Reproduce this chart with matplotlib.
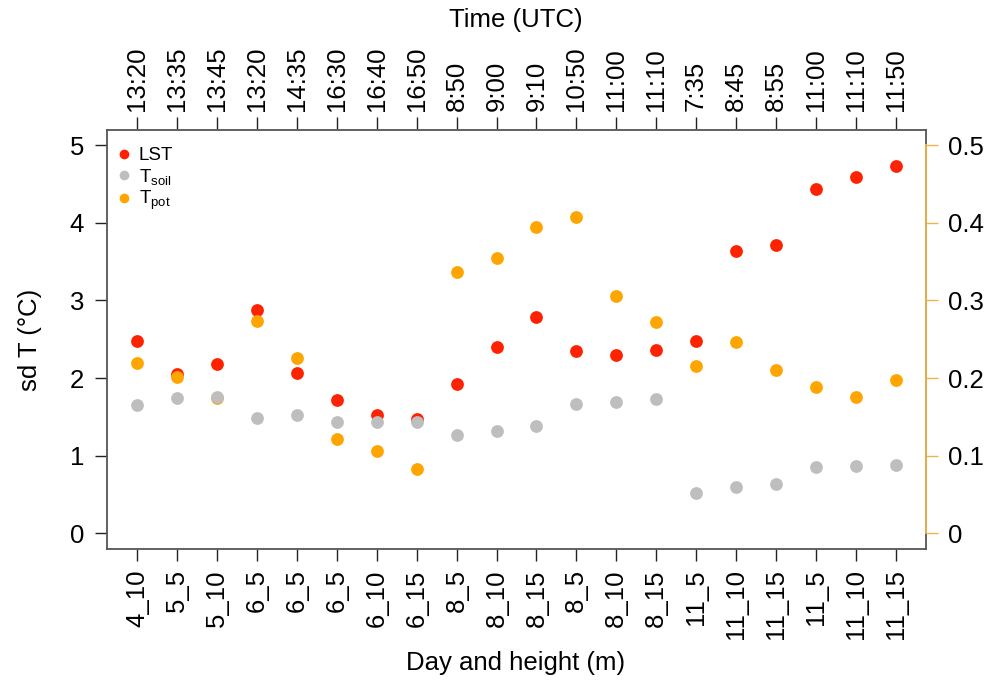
import matplotlib
matplotlib.use("Agg")
import matplotlib.pyplot as plt
from matplotlib.lines import Line2D

plt.rcParams['font.family'] = ['Liberation Sans', 'DejaVu Sans']
plt.rcParams['mathtext.default'] = 'regular'

day_height = ["4_10", "5_5", "5_10", "6_5", "6_5", "6_5", "6_10", "6_15", "8_5", "8_10",
              "8_15", "8_5", "8_10", "8_15", "11_5", "11_10", "11_15", "11_5", "11_10", "11_15"]
times = ["13:20", "13:35", "13:45", "13:20", "14:35", "16:30", "16:40", "16:50", "8:50", "9:00",
         "9:10", "10:50", "11:00", "11:10", "7:35", "8:45", "8:55", "11:00", "11:10", "11:50"]
lst = [2.48, 2.05, 2.18, 2.88, 2.06, 1.72, 1.53, 1.47, 1.92, 2.40,
       2.79, 2.35, 2.30, 2.36, 2.48, 3.63, 3.71, 4.44, 4.59, 4.73]
t_soil = [1.66, 1.75, 1.76, 1.49, 1.53, 1.44, 1.43, 1.43, 1.27, 1.32,
          1.38, 1.67, 1.69, 1.73, 0.52, 0.60, 0.64, 0.85, 0.87, 0.88]
t_pot = [0.220, 0.202, 0.175, 0.273, 0.226, 0.122, 0.106, 0.083, 0.336, 0.354,
         0.394, 0.408, 0.306, 0.272, 0.215, 0.246, 0.210, 0.189, 0.176, 0.197]
x = list(range(1, len(day_height) + 1))

RED = "#FF2200"
GRAY = "#BEBEBE"
ORANGE = "#FFA500"
AXIS_OR = "#F2B24A"
BOX = "#555555"
FS = 18.5

fig = plt.figure(figsize=(9.87, 6.82), dpi=100)
ax = fig.add_axes([107/987, 1 - 549/682, (926-107)/987, (549-129.5)/682])
ax2 = ax.twinx()

ax.set_xlim(0.24, 20.76)
ax.set_ylim(-0.2, 5.2)
ax2.set_ylim(-0.02, 0.52)

ms = 9.2
ax.plot(x, lst, 'o', color=RED, ms=ms, mew=0, zorder=3)
ax.plot(x, t_pot, 'o', color=ORANGE, ms=ms, mew=0, zorder=4, transform=ax2.transData)
ax.plot(x, t_soil, 'o', color=GRAY, ms=ms, mew=0, zorder=5)

for s in ax.spines.values():
    s.set_color(BOX)
    s.set_linewidth(1.3)
for s in ax2.spines.values():
    s.set_visible(False)
ax2.spines['right'].set_visible(True)
ax2.spines['right'].set_color(AXIS_OR)
ax2.spines['right'].set_linewidth(1.3)
ax2.spines['right'].set_bounds(0, 0.5)

ax.set_yticks([0, 1, 2, 3, 4, 5])
ax.tick_params(axis='y', length=8.5, width=1, color='#222222', pad=8, labelsize=FS)
ax2.set_yticks([0, 0.1, 0.2, 0.3, 0.4, 0.5])
ax2.set_yticklabels(["0", "0.1", "0.2", "0.3", "0.4", "0.5"])
ax2.tick_params(axis='y', length=8.5, width=1, color=AXIS_OR, pad=7, labelsize=FS)

ax.set_xticks(x)
ax.set_xticklabels(day_height, rotation=90, fontsize=FS)
ax.tick_params(axis='x', length=8.5, width=1, color='#222222', pad=6)

top = ax.secondary_xaxis('top')
top.set_xticks(x)
top.set_xticklabels(times, rotation=90, fontsize=FS)
top.tick_params(axis='x', length=8.5, width=1, color='#222222', pad=5)
top.spines['top'].set_visible(False)

fig.text(516/987, 1 - 20/682, "Time (UTC)", ha='center', va='center', fontsize=FS)
fig.text(516/987, 1 - 663/682, "Day and height (m)", ha='center', va='center', fontsize=FS)
fig.text(30/987, 1 - 340/682, "sd T (°C)", ha='center', va='center', rotation=90, fontsize=FS)

handles = [Line2D([], [], ls='none', marker='o', color=c, ms=7, mew=0) for c in (RED, GRAY, ORANGE)]
ax.legend(handles, ["LST", "T$_{soil}$", "T$_{pot}$"], loc='upper left', frameon=False,
          bbox_to_anchor=(-0.008, 1.0),
          fontsize=13.5, handlelength=0.6, handletextpad=0.5, labelspacing=0.12,
          borderaxespad=0.4, borderpad=0.55)

fig.savefig("out.png", dpi=100)
